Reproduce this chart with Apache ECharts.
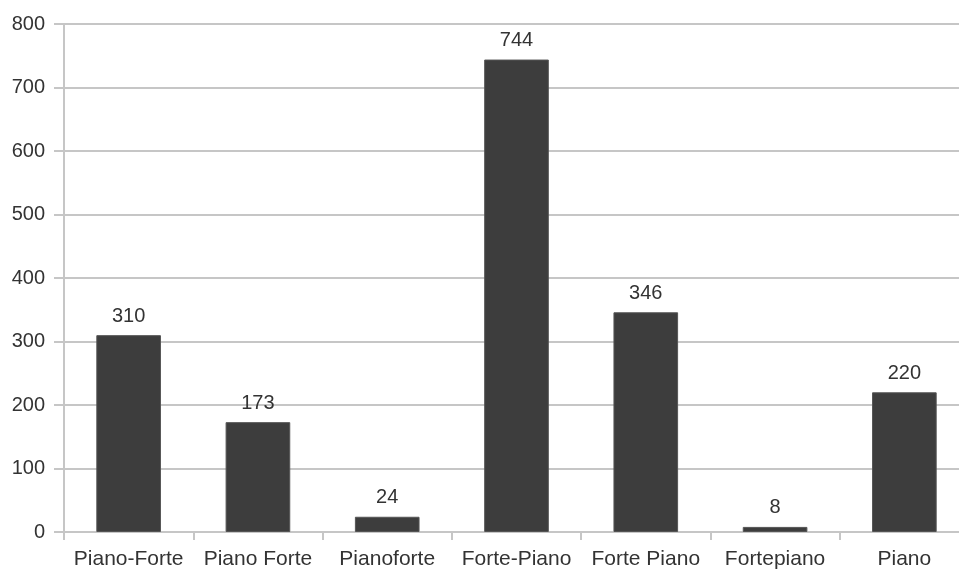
<!DOCTYPE html>
<html>
<head>
<meta charset="utf-8">
<script src="https://cdn.jsdelivr.net/npm/echarts@6/dist/echarts.min.js"></script>
<style>
  html, body { margin: 0; padding: 0; background: #ffffff; overflow: hidden; }
  #chart { width: 975px; height: 571px; }
</style>
</head>
<body>
<div id="chart"></div>
<script>
// Names of the instrument spellings along the category axis
const categories = ['Piano-Forte', 'Piano Forte', 'Pianoforte', 'Forte-Piano', 'Forte Piano', 'Fortepiano', 'Piano'];
// Count for each spelling
const counts = [310, 173, 24, 744, 346, 8, 220];
// Value axis range
const yMin = 0;
const yMax = 800;
const yStep = 100;

const gridColor = '#c6c6c6';
const textColor = '#333333';
const font = 'Liberation Sans, Arial, sans-serif';

// The plot runs slightly past the right edge of the visible page
const chart = echarts.init(document.getElementById('chart'), null, { renderer: 'canvas' });
chart.setOption({
  animation: false,
  backgroundColor: '#ffffff',
  grid: { left: 64, top: 24, bottom: 39, width: 905, containLabel: false },
  xAxis: {
    type: 'category',
    data: categories,
    boundaryGap: true,
    axisLine: { show: true, lineStyle: { color: gridColor, width: 2 } },
    axisTick: { show: true, length: 8, alignWithLabel: false, lineStyle: { color: gridColor, width: 2 } },
    axisLabel: { color: textColor, fontFamily: font, fontSize: 21, margin: 17, interval: 0 },
    splitLine: { show: false }
  },
  yAxis: {
    type: 'value',
    min: yMin,
    max: yMax,
    interval: yStep,
    axisLine: { show: true, lineStyle: { color: gridColor, width: 2 } },
    axisTick: { show: true, length: 10, lineStyle: { color: gridColor, width: 2 } },
    axisLabel: { color: textColor, fontFamily: font, fontSize: 20, margin: 19 },
    splitLine: { show: true, lineStyle: { color: gridColor, width: 2 } }
  },
  series: [{
    type: 'bar',
    data: counts,
    barWidth: '50%',
    itemStyle: { color: '#3d3d3d', borderColor: '#555555', borderWidth: 1 },
    label: {
      show: true,
      position: 'top',
      distance: 9,
      color: textColor,
      fontFamily: font,
      fontSize: 20
    }
  }]
});
</script>
</body>
</html>
